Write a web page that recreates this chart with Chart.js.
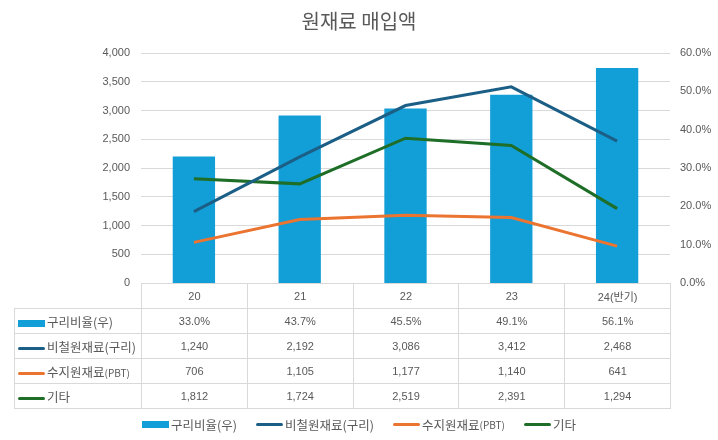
<!DOCTYPE html>
<html>
<head>
<meta charset="utf-8">
<script src="https://cdn.jsdelivr.net/npm/chart.js@4/dist/chart.umd.min.js"></script>
<style>
  body { margin: 0; background: #fff; }
  #wrap { position: relative; width: 718px; height: 440px; font-family: "Liberation Sans", "Noto Sans CJK KR", sans-serif; color: #595959; }
  #title { position: absolute; top: 6px; left: 0; width: 718px; text-align: center; font-size: 20px; font-family: "Noto Sans CJK KR", sans-serif; color: #595959; }
  #data-table { position: absolute; border-collapse: collapse; table-layout: fixed; font-size: 11px; }
  #data-table td { border: 1px solid #d9d9d9; text-align: center; height: 24px; padding: 0; }
  #data-table td.name { text-align: left; font-family: "Noto Sans CJK KR", sans-serif; font-size: 12.5px; white-space: nowrap; }
  #data-table td.blank { border-top: none; border-left: none; }
  .sw { display: inline-block; width: 27px; vertical-align: middle; margin: 0 2px 0 3px; }
  .small { font-size: 10px; }
  #legend { position: absolute; top: 415px; left: 0; width: 718px; display: flex; justify-content: center; gap: 19px; font-family: "Noto Sans CJK KR", sans-serif; font-size: 12.5px; }
  #legend span.item { display: flex; align-items: center; }
  #legend .sw { margin: 0 2px 0 0; }
</style>
</head>
<body>
<div id="wrap">
  <div id="title">원재료 매입액</div>
  <canvas id="chart" width="718" height="440"></canvas>
  <table id="data-table"></table>
  <div id="legend"></div>
</div>
<script>
// categories and series
const years = ["20", "21", "22", "23", "24(반기)"];
const copperRatio = [33.0, 43.7, 45.5, 49.1, 56.1];
const nonFerrous = [1240, 2192, 3086, 3412, 2468];
const resin = [706, 1105, 1177, 1140, 641];
const others = [1812, 1724, 2519, 2391, 1294];

const seriesNames = ["구리비율(우)", "비철원재료(구리)", "수지원재료(PBT)", "기타"];
const seriesColors = ["#129ed6", "#1c5f86", "#eb7431", "#1e6e27"];

const fmtNum = (v) => v.toLocaleString("en-US");
const fmtPct = (v) => v.toFixed(1) + "%";

const lineSet = (i, data) => ({
  type: "line",
  label: seriesNames[i],
  data: data,
  yAxisID: "y",
  borderColor: seriesColors[i],
  backgroundColor: seriesColors[i],
  borderWidth: 3,
  pointRadius: 0,
  tension: 0,
  order: 0,
});

const chart = new Chart(document.getElementById("chart").getContext("2d"), {
  type: "bar",
  data: {
    labels: years,
    datasets: [
      {
        label: seriesNames[0],
        data: copperRatio,
        yAxisID: "y1",
        backgroundColor: seriesColors[0],
        barPercentage: 0.4,
        categoryPercentage: 1,
        order: 1,
      },
      lineSet(1, nonFerrous),
      lineSet(2, resin),
      lineSet(3, others),
    ],
  },
  options: {
    responsive: false,
    animation: false,
    layout: { padding: { top: 53, bottom: 157, left: 0, right: 0 } },
    plugins: { legend: { display: false }, title: { display: false }, tooltip: { enabled: false } },
    scales: {
      x: { display: false, offset: true },
      y: {
        position: "left",
        min: 0,
        max: 4000,
        ticks: {
          stepSize: 500,
          padding: 11,
          color: "#595959",
          font: { family: "Liberation Sans", size: 11 },
          callback: (v) => fmtNum(v),
        },
        grid: { color: "#d9d9d9", drawTicks: false },
        border: { display: false },
        afterFit: (s) => { s.width = 141; },
      },
      y1: {
        position: "right",
        min: 0,
        max: 60,
        ticks: {
          stepSize: 10,
          padding: 10,
          color: "#595959",
          font: { family: "Liberation Sans", size: 11 },
          callback: (v) => fmtPct(v),
        },
        grid: { display: false, drawTicks: false },
        border: { display: false },
        afterFit: (s) => { s.width = 48; },
      },
    },
  },
});

// data table under the plot, columns aligned to the chart area
function swatch(i, h) {
  return `<span class="sw" style="height:${h}px;background:${seriesColors[i]};${i ? "border-radius:2px;" : ""}"></span>`;
}
function nameHtml(name) {
  return name.replace("(PBT)", '<span class="small">(PBT)</span>');
}

const area = chart.chartArea;
const colW = (area.right - area.left) / years.length;
const table = document.getElementById("data-table");
table.style.left = "14px";
table.style.top = area.bottom + "px";
const rows = [copperRatio, nonFerrous, resin, others];
let html = `<colgroup><col style="width:${area.left - 14}px">` +
  years.map(() => `<col style="width:${colW}px">`).join("") + "</colgroup>";
html += `<tr><td class="blank"></td>${years.map((y) => `<td>${y}</td>`).join("")}</tr>`;
rows.forEach((r, i) => {
  const cells = r.map((v) => `<td>${i === 0 ? fmtPct(v) : fmtNum(v)}</td>`).join("");
  html += `<tr><td class="name">${swatch(i, i === 0 ? 7 : 3)}${nameHtml(seriesNames[i])}</td>${cells}</tr>`;
});
table.innerHTML = html;
table.style.width = (area.right - 14) + "px";

document.getElementById("legend").innerHTML = seriesNames
  .map((n, i) => `<span class="item">${swatch(i, i === 0 ? 7 : 3)}${nameHtml(n)}</span>`)
  .join("");
</script>
</body>
</html>
